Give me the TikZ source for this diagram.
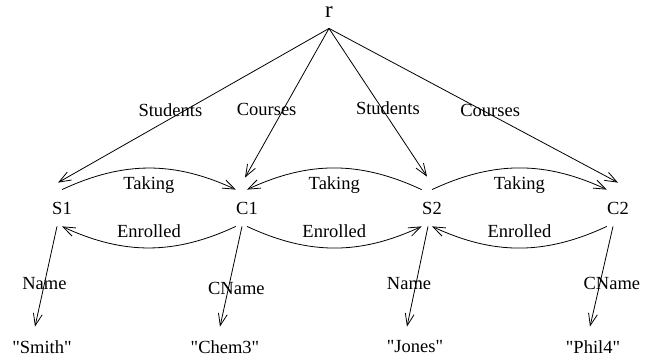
\documentclass[tikz,border=0pt]{standalone}
\usepackage{fontspec}
\setmainfont{Liberation Serif}
\usetikzlibrary{arrows.meta}
\begin{document}
\begin{tikzpicture}[x=1pt, y=-1pt, line width=0.8pt,
   every node/.style={font=\fontsize{18.5}{20}\selectfont},
   obj/.style={minimum width=20pt, minimum height=36pt, inner sep=0pt},
   val/.style={minimum height=40pt, inner sep=0pt},
   lbl/.style={inner sep=0pt},
   arc/.style={-{Straight Barb[length=12pt,width=9pt]}}]
   \useasboundingbox (0,0) rectangle (665,361);
   \node[inner sep=0pt, outer sep=11pt, font=\fontsize{23}{25}\selectfont] (r) at (329,12) {r};
   \node[obj] (S1) at (62,208) {S1};
   \node[obj] (C1) at (247,208) {C1};
   \node[obj] (S2) at (432,208) {S2};
   \node[obj] (C2) at (618,208) {C2};
   \node[val] (smith) at (42,347) {\textquotedbl Smith\textquotedbl};
   \node[val] (chem) at (225,347) {\textquotedbl Chem3\textquotedbl};
   \node[val] (jones) at (415,347) {\textquotedbl Jones\textquotedbl};
   \node[val] (phil) at (593,347) {\textquotedbl Phil4\textquotedbl};
   % root edges
   \draw[arc] (r.south) -- ([shift={(-4pt,7pt)}]S1.north) node[lbl, pos=.53, xshift=-15pt] {Students};
   \draw[arc] (r.south) -- ([shift={(-2pt,12pt)}]C1.north) node[lbl, pos=.54, xshift=-17pt] {Courses};
   \draw[arc] (r.south) -- ([shift={(-5pt,13pt)}]S2.north) node[lbl, pos=.54, xshift=6pt] {Students};
   \draw[arc] (r.south) -- ([yshift=7pt]C2.north) node[lbl, pos=.53, xshift=8pt] {Courses};
   % Taking / Enrolled
   \draw[arc] (S1.north) to[bend left=25] node[lbl, midway, yshift=-17pt] {Taking} (C1.north west);
   \draw[arc] (C1.south west) to[bend left=25] node[lbl, midway, yshift=17pt] {Enrolled} (S1.south);
   \draw[arc] (S2.north west) to[bend right=25] node[lbl, midway, yshift=-17pt] {Taking} (C1.north);
   \draw[arc] (C1.south) to[bend right=25] node[lbl, midway, yshift=17pt] {Enrolled} (S2.south west);
   \draw[arc] (S2.north) to[bend left=25] node[lbl, midway, yshift=-17pt] {Taking} (C2.north west);
   \draw[arc] (C2.south west) to[bend left=25] node[lbl, midway, yshift=17pt] {Enrolled} (S2.south);
   % values
   \draw[arc] ([xshift=-5pt]S1.south) -- ([xshift=-7pt]smith.north) node[lbl, pos=.57] {Name};
   \draw[arc] ([xshift=-5pt]C1.south) -- ([xshift=-5pt]chem.north) node[lbl, pos=.62, xshift=8pt] {CName};
   \draw[arc] ([xshift=-4pt]S2.south) -- ([xshift=-8pt]jones.north) node[lbl, pos=.57, xshift=-7pt] {Name};
   \draw[arc] ([xshift=-5pt]C2.south) -- ([xshift=-3pt]phil.north) node[lbl, pos=.57, xshift=12pt] {CName};
\end{tikzpicture}
\end{document}
